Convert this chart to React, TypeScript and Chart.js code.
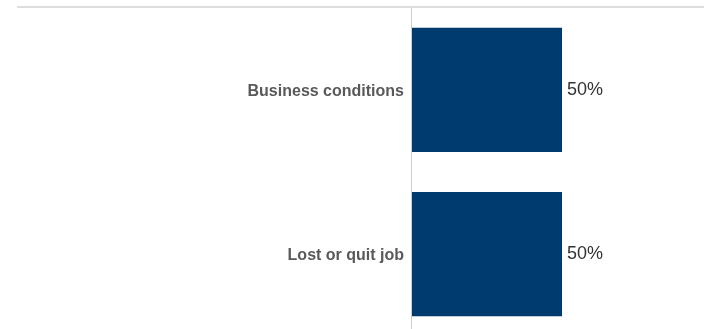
import React, { useEffect, useRef } from "react";
import { Chart, registerables } from "chart.js";

Chart.register(...registerables);

const categories: string[] = ["Business conditions", "Lost or quit job"];
const values: number[] = [50, 50];
const valueLabels: string[] = ["50%", "50%"];
const xMin = 0;
const xMax = 100;

const FONT = "'Liberation Sans', Arial, sans-serif";
const SHIFT = 10; // canvas is shifted up by this many pixels

export default function App() {
  const ref = useRef<HTMLCanvasElement | null>(null);

  useEffect(() => {
    if (!ref.current) return;
    const decor = {
      id: "decor",
      afterDraw(chart: any) {
        const ctx = chart.ctx;
        ctx.save();
        ctx.fillStyle = "#dddddd";
        ctx.fillRect(17, 6 + SHIFT, 704 - 17, 2);
        ctx.fillStyle = "#cccccc";
        ctx.fillRect(chart.chartArea.left - 1, 8 + SHIFT, 1, chart.height - 8 - SHIFT);
        // category labels, drawn from the y scale
        const yScale = chart.scales.y;
        ctx.font = "bold 16px " + FONT;
        ctx.fillStyle = "#595959";
        ctx.textAlign = "right";
        ctx.textBaseline = "middle";
        categories.forEach((c, i) => {
          ctx.fillText(c, chart.chartArea.left - 8, yScale.getPixelForValue(i) + 1.5);
        });
        ctx.restore();
      },
      afterDatasetsDraw(chart: any) {
        const ctx = chart.ctx;
        const meta = chart.getDatasetMeta(0);
        ctx.save();
        ctx.font = "18px " + FONT;
        ctx.fillStyle = "#333333";
        ctx.textAlign = "left";
        ctx.textBaseline = "middle";
        meta.data.forEach((bar: any, i: number) => {
          ctx.fillText(valueLabels[i], bar.x + 5, bar.y);
        });
        ctx.restore();
      },
    };

    const chart = new Chart(ref.current, {
      type: "bar",
      data: {
        labels: categories,
        datasets: [
          {
            data: values,
            backgroundColor: "#003b6f",
            borderWidth: 0,
            barPercentage: 124 / 164,
            categoryPercentage: 1,
          },
        ],
      },
      options: {
        indexAxis: "y",
        animation: false,
        responsive: false,
        maintainAspectRatio: false,
        devicePixelRatio: 1,
        layout: { padding: 0 },
        plugins: { legend: { display: false }, tooltip: { enabled: false } },
        scales: {
          x: {
            display: false,
            min: xMin,
            max: xMax,
          },
          y: {
            grid: { display: false, drawTicks: false },
            border: { display: false },
            ticks: {
              padding: 8,
              color: "rgba(0,0,0,0)",
              font: { family: FONT, size: 16, weight: "bold" },
            },
            afterFit(scale: any) {
              scale.width = 412;
            },
          },
        },
      },
      plugins: [decor],
    });
    return () => chart.destroy();
  }, []);

  return (
    <div
      style={{
        position: "fixed",
        left: 0,
        top: 0,
        width: 704,
        height: 329,
        overflow: "hidden",
        background: "#ffffff",
      }}
    >
      <canvas
        ref={ref}
        width={712}
        height={364}
        style={{ position: "absolute", left: 0, top: -SHIFT, width: 712, height: 364 }}
      />
    </div>
  );
}
